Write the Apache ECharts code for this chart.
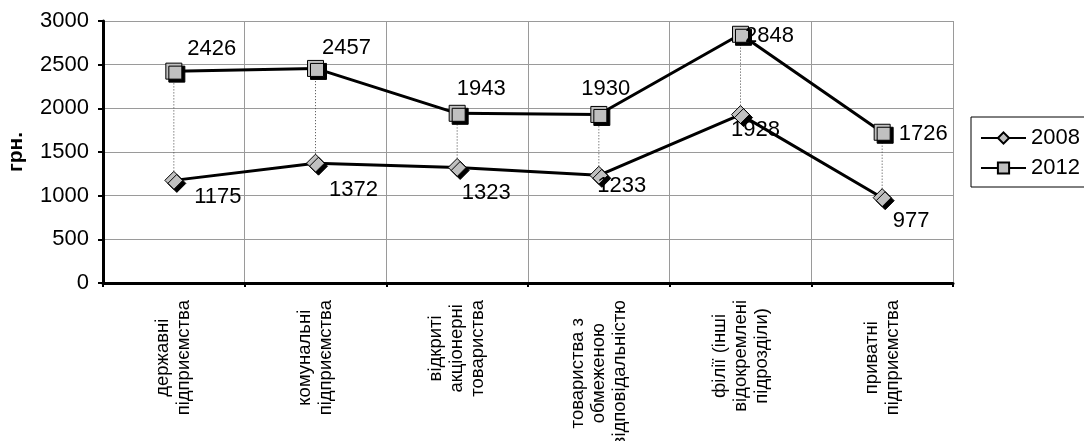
<!DOCTYPE html>
<html>
<head>
<meta charset="utf-8">
<style>
  html, body { margin: 0; padding: 0; background: #fff; }
  #chart { width: 1084px; height: 441px; }
</style>
<script src="https://cdn.jsdelivr.net/npm/echarts@6/dist/echarts.min.js"></script>
</head>
<body>
<div id="chart"></div>
<script>
// Середня заробітна плата за формами власності, грн.
const categories = [
  'державні\nпідприємства',
  'комунальні\nпідприємства',
  'відкриті\nакціонерні\nтовариства',
  'товариства з\nобмеженою\nвідповідальністю',
  'філії (інші\nвідокремлені\nпідрозділи)',
  'приватні\nпідприємства'
];
const seriesNames = ['2008', '2012'];
const values2008 = [1175, 1372, 1323, 1233, 1928, 977];
const values2012 = [2426, 2457, 1943, 1930, 2848, 1726];
const yTicks = { min: 0, max: 3000, step: 500 };

// Label placement around each marker (pixels, relative to the point)
const offsets2008 = [[44, 17], [38, 27], [29, 25], [23, 11], [15, 15], [29, 23]];
const offsets2012 = [[38, -22], [31, -20], [24, -24], [7, -26], [29, 2], [41, 2]];

const FONT = '"Liberation Sans", Arial, sans-serif';

function withLabels(values, offsets) {
  return values.map((v, i) => ({
    value: v,
    label: { offset: offsets[i] }
  }));
}

const markerStyle = {
  color: '#c0c0c0',
  borderColor: '#000',
  borderWidth: 1,
  shadowColor: '#000',
  shadowBlur: 0,
  shadowOffsetX: 3,
  shadowOffsetY: 3
};

const labelStyle = {
  show: true,
  position: 'inside',
  color: '#000',
  fontFamily: FONT,
  fontSize: 22
};

const chart = echarts.init(document.getElementById('chart'), null, { renderer: 'canvas' });

chart.setOption({
  animation: false,
  backgroundColor: '#fff',
  textStyle: { fontFamily: FONT },
  grid: {
    left: 103, right: 131, top: 21, bottom: 158,
    containLabel: false,
    outerBoundsMode: 'none'
  },
  legend: {
    orient: 'vertical',
    left: 971,
    top: 117,
    padding: [10, 12, 8, 9],
    itemGap: 8,
    itemWidth: 45,
    itemHeight: 14,
    borderColor: '#000',
    borderWidth: 1,
    borderRadius: 0,
    data: seriesNames,
    textStyle: { fontFamily: FONT, fontSize: 22, color: '#000' }
  },
  xAxis: {
    type: 'category',
    data: categories,
    boundaryGap: true,
    axisLine: { show: true, lineStyle: { color: '#000', width: 3 } },
    axisTick: { show: true, length: 4, lineStyle: { color: '#000', width: 2 } },
    splitLine: { show: true, lineStyle: { color: '#9a9a9a', width: 1 } },
    axisLabel: {
      interval: 0,
      rotate: 90,
      margin: 17,
      color: '#000',
      formatter: (txt) => txt.split('\n').map(s => '{c|' + s + '}').join('\n'),
      rich: {
        c: { align: 'center', fontFamily: FONT, fontSize: 18.5, lineHeight: 21, color: '#000' }
      }
    }
  },
  yAxis: {
    type: 'value',
    min: yTicks.min,
    max: yTicks.max,
    interval: yTicks.step,
    name: 'грн.',
    nameLocation: 'middle',
    nameGap: 76,
    nameTextStyle: { fontFamily: FONT, fontSize: 21, fontWeight: 'bold', color: '#000' },
    axisLine: { show: true, lineStyle: { color: '#000', width: 3 } },
    axisTick: { show: true, length: 5, lineStyle: { color: '#000', width: 2 } },
    splitLine: { show: true, lineStyle: { color: '#9a9a9a', width: 1 } },
    axisLabel: {
      margin: 14,
      color: '#000',
      fontFamily: FONT,
      fontSize: 22,
      formatter: (v) => String(v)
    }
  },
  series: [
    {
      // dotted connectors between the two years at each category
      type: 'custom',
      silent: true,
      z: 1,
      data: values2008.map((v, i) => [i, v, values2012[i]]),
      renderItem: (params, api) => {
        const a = api.coord([api.value(0), api.value(1)]);
        const b = api.coord([api.value(0), api.value(2)]);
        return {
          type: 'line',
          shape: { x1: a[0], y1: a[1], x2: b[0], y2: b[1] },
          style: { stroke: '#444', lineWidth: 1, lineDash: [1, 2] }
        };
      }
    },
    {
      name: seriesNames[0],
      type: 'line',
      z: 3,
      data: withLabels(values2008, offsets2008),
      symbol: 'diamond',
      symbolSize: 18,
      lineStyle: { color: '#000', width: 3 },
      itemStyle: markerStyle,
      label: labelStyle,
      emphasis: { disabled: true }
    },
    {
      name: seriesNames[1],
      type: 'line',
      z: 3,
      data: withLabels(values2012, offsets2012),
      symbol: 'rect',
      symbolSize: 16,
      lineStyle: { color: '#000', width: 3 },
      itemStyle: markerStyle,
      label: labelStyle,
      emphasis: { disabled: true }
    }
  ]
});
</script>
</body>
</html>
